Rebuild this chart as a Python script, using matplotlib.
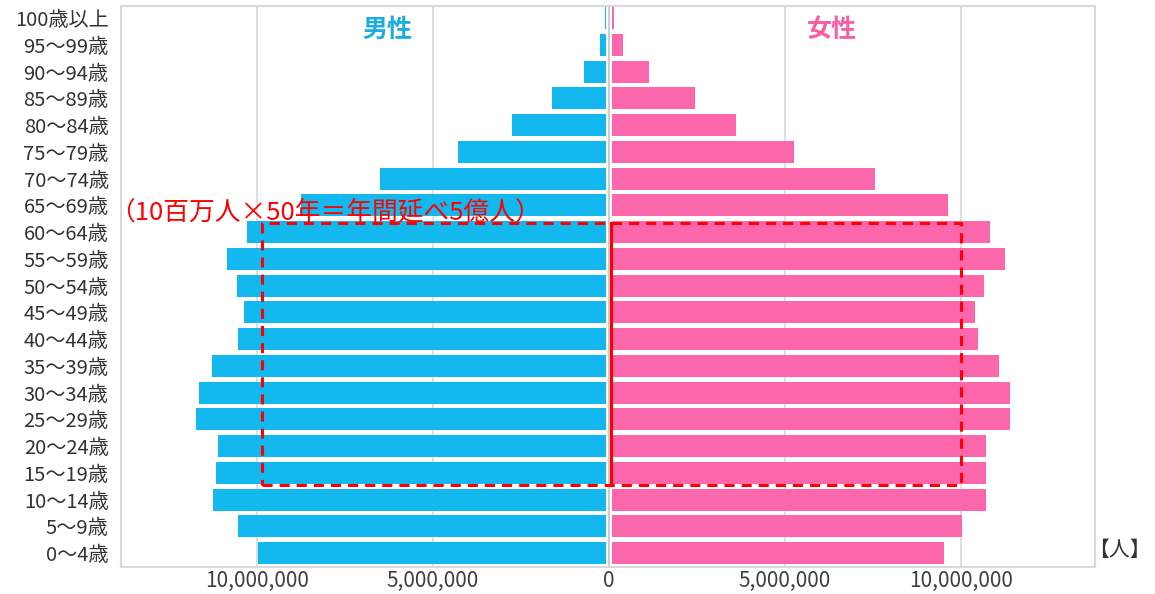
import numpy as np
import matplotlib
matplotlib.use('Agg')
import matplotlib.pyplot as plt
from matplotlib.ticker import FuncFormatter

plt.rcParams['font.family'] = ['Noto Sans CJK JP', 'DejaVu Sans']

# age groups, youngest first
ages = ['0〜4歳', '5〜9歳', '10〜14歳', '15〜19歳', '20〜24歳', '25〜29歳',
        '30〜34歳', '35〜39歳', '40〜44歳', '45〜49歳', '50〜54歳', '55〜59歳',
        '60〜64歳', '65〜69歳', '70〜74歳', '75〜79歳', '80〜84歳', '85〜89歳',
        '90〜94歳', '95〜99歳', '100歳以上']

# population (persons)
male = [9.89e6, 10.45e6, 11.16e6, 11.08e6, 11.02e6, 11.65e6, 11.56e6, 11.19e6,
        10.45e6, 10.28e6, 10.48e6, 10.77e6, 10.20e6, 8.66e6, 6.42e6, 4.20e6,
        2.67e6, 1.53e6, 0.63e6, 0.17e6, 0.03e6]
female = [9.43e6, 9.94e6, 10.63e6, 10.63e6, 10.63e6, 11.30e6, 11.30e6, 10.99e6,
          10.40e6, 10.31e6, 10.57e6, 11.16e6, 10.74e6, 9.55e6, 7.47e6, 5.17e6,
          3.52e6, 2.36e6, 1.05e6, 0.31e6, 0.05e6]

xticks = [-10e6, -5e6, 0, 5e6, 10e6]

# working-age block: 15-19 to 60-64, +-10M
box_x = (-9.85e6, 10.0e6)
box_y = (2.54, 12.34)

male_c = '#13b8ef'
female_c = '#fc66aa'
red = '#ff0000'
gap = 0.085e6

fig = plt.figure(figsize=(11.55, 5.94), dpi=100)
ax = fig.add_axes([0.1048, 0.0455, 0.8432, 0.9444])

y = np.arange(len(ages))
ax.barh(y, -np.array(male), left=-gap, height=0.82, color=male_c, zorder=2)
ax.barh(y, female, left=gap, height=0.82, color=female_c, zorder=2)

for x in xticks:
    ax.axvline(x, color='#d9d9d9' if x != 0 else '#c4c4c4', lw=1.2, zorder=1)

ax.set_xlim(-13.86e6, 13.81e6)
ax.set_ylim(-0.52, 20.45)
ax.set_yticks(y)
ax.set_yticklabels(ages, fontsize=14.5, color='#333333')
ax.set_xticks(xticks)
ax.xaxis.set_major_formatter(FuncFormatter(lambda v, p: f'{abs(int(v)):,}'))
ax.tick_params(axis='x', length=0, labelsize=15, colors='#404040', pad=2)
ax.tick_params(axis='y', length=0, colors='#333333', pad=9)
for s in ax.spines.values():
    s.set_color('#d9d9d9')
    s.set_linewidth(1.5)

ax.text(-6.3e6, 19.55, '男性', color='#1aaee0', fontsize=18, fontweight='bold',
        ha='center', va='center')
ax.text(6.33e6, 19.55, '女性', color='#f75fa5', fontsize=18, fontweight='bold',
        ha='center', va='center')

# dashed box and centre line
bx = [box_x[0], box_x[1], box_x[1], box_x[0], box_x[0]]
by = [box_y[0], box_y[0], box_y[1], box_y[1], box_y[0]]
ax.plot(bx, by, color=red, lw=2.2, dashes=(3.3, 2.3), zorder=4)
ax.plot([0.06e6, 0.06e6], box_y, color=red, lw=2.2, zorder=4)

ax.text(-14.2e6, 12.75, '（10百万人×50年＝年間延べ5億人）', color=red,
        fontsize=18.5, ha='left', va='center', clip_on=False, zorder=5)

fig.text(0.996, 1 - 550 / 594, '【人】', fontsize=15, color='#333333',
         ha='right', va='center')

fig.savefig('out.png', dpi=100)
